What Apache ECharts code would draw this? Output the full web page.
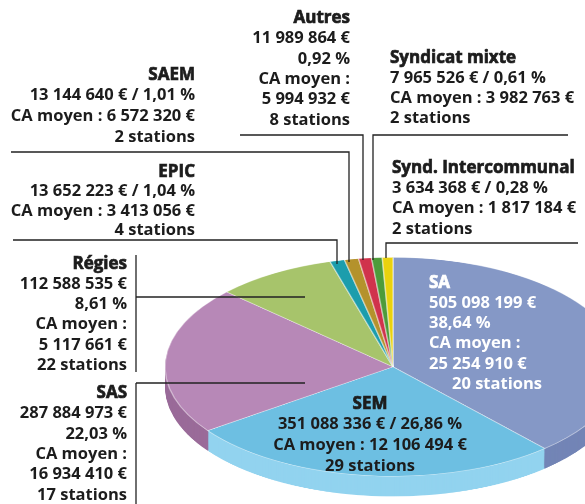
<!DOCTYPE html>
<html>
<head>
<meta charset="utf-8">
<script src="https://cdn.jsdelivr.net/npm/echarts@6/dist/echarts.min.js"></script>
<style>
  html, body { margin: 0; padding: 0; background: #fff; }
  #wrap { position: relative; width: 585px; height: 504px; overflow: hidden; }
  /* the pie is drawn round, then flattened to look tilted */
  #pie { position: absolute; left: 0; top: 242px; width: 585px; height: 540px; transform: scaleY(0.48); transform-origin: 0 0; }
  #labels { position: absolute; left: 0; top: 0; width: 585px; height: 504px; }
</style>
</head>
<body>
<div id="wrap"><div id="pie"></div><div id="labels"></div></div>
<script>
// Data
const names = ['SA', 'SEM', 'SAS', 'Régies', 'EPIC', 'SAEM', 'Autres', 'Syndicat mixte', 'Synd. Intercommunal'];
const amounts = [505098199, 351088336, 287884973, 112588535, 13652223, 13144640, 11989864, 7965526, 3634368];
const shares = ['38,64', '26,86', '22,03', '8,61', '1,04', '1,01', '0,92', '0,61', '0,28'];
const averages = [25254910, 12106494, 16934410, 5117661, 3413056, 6572320, 5994932, 3982763, 1817184];
const stations = [20, 29, 17, 22, 4, 2, 8, 2, 2];

const topColors = ['#8598c6', '#6dbfe2', '#b788b7', '#a7c46b', '#1c9dac', '#b4922c', '#d0334c', '#4d9b3a', '#e9d20e'];
const sideColors = ['#7385b6', '#92d3ef', '#9a6b99', '#8ea856', '#16808c', '#927522', '#a8263b', '#3c7c2d', '#c2ae08'];

const DEPTH = 42; // in unflattened pixels
const CX = 393, CY = 260, R = 228;

function fmt(n) {
  return String(n).replace(/\B(?=(\d{3})+(?!\d))/g, ' ');
}

// Pie
const pieChart = echarts.init(document.getElementById('pie'));
const pieData = names.map((n, i) => ({ name: n, value: amounts[i] }));
const series = [];
for (let d = DEPTH; d >= 2; d -= 2) {
  series.push({
    type: 'pie', silent: true, animation: false,
    center: [CX, CY + d], radius: R, startAngle: 90, clockwise: true, minAngle: 2.7,
    label: { show: false }, labelLine: { show: false },
    itemStyle: { color: p => sideColors[p.dataIndex], borderWidth: 0 },
    data: pieData
  });
}
series.push({
  type: 'pie', silent: true, animation: false,
  center: [CX, CY], radius: R, startAngle: 90, clockwise: true, minAngle: 2.7,
  label: { show: false }, labelLine: { show: false },
  itemStyle: {
    color: p => topColors[p.dataIndex],
    borderColor: 'rgba(255,255,255,0.45)', borderWidth: 1.5
  },
  data: pieData
});
pieChart.setOption({ series });

// Labels
const FONT = '"Open Sans", "Noto Sans", sans-serif';
const INK = '#1c1c1c';

function lines(i, style) {
  const amt = fmt(amounts[i]) + ' €';
  const pct = shares[i] + ' %';
  const avg = fmt(averages[i]) + ' €';
  const st = stations[i] + ' stations';
  if (style === 'wide') {
    return [names[i], amt + ' / ' + pct, 'CA moyen : ' + avg, st];
  }
  return [names[i], amt, pct, 'CA moyen :', avg, st];
}

// [index, layout, x, first line y, line step, align, color]
const blocks = [
  [6, 'tall', 350, 18, 20.4, 'right', INK],
  [5, 'wide', 195, 75, 20.6, 'right', INK],
  [4, 'wide', 195, 172, 19.5, 'right', INK],
  [7, 'wide', 390, 58, 20.2, 'left', INK],
  [8, 'wide', 392, 168, 20.3, 'left', INK],
  [3, 'tall', 127, 264, 20.2, 'right', INK],
  [2, 'tall', 127, 393, 20.4, 'right', INK],
  [0, 'tall', 429, 283, 20.2, 'left', '#ffffff'],
  [1, 'wide', 370, 404, 20.6, 'center', INK]
];

const graphics = [];
blocks.forEach(([i, layout, x, y0, step, align, color]) => {
  lines(i, layout).forEach((t, k) => {
    let tx = x;
    if (i === 0 && k === 5) tx = x + 23;
    const style = {
      text: t, fill: color, align, verticalAlign: 'middle',
      font: (k === 0 ? 'bold 17px ' : 'bold 16.5px ') + FONT
    };
    // titles are heavier in the original
    if (k === 0) { style.stroke = color; style.lineWidth = 0.7; }
    graphics.push({ type: 'text', x: tx, y: y0 + k * step, style });
  });
});

// leader lines
const leaders = [
  [[240, 135], [363, 135], [363, 260]],
  [[11, 152], [349, 152], [349, 262]],
  [[13, 240], [337, 240], [337, 264]],
  [[568, 135], [373, 135], [373, 260]],
  [[578, 243], [386, 243], [386, 258]],
  [[136, 255], [136, 372]],
  [[136, 297], [305, 297]],
  [[136, 383], [136, 504]],
  [[136, 383], [305, 383]]
];
leaders.forEach(pts => {
  graphics.push({
    type: 'polyline', shape: { points: pts },
    style: { stroke: '#222', lineWidth: 1.3, fill: null }
  });
});

const labelChart = echarts.init(document.getElementById('labels'));
labelChart.setOption({ animation: false, graphic: graphics });
</script>
</body>
</html>
